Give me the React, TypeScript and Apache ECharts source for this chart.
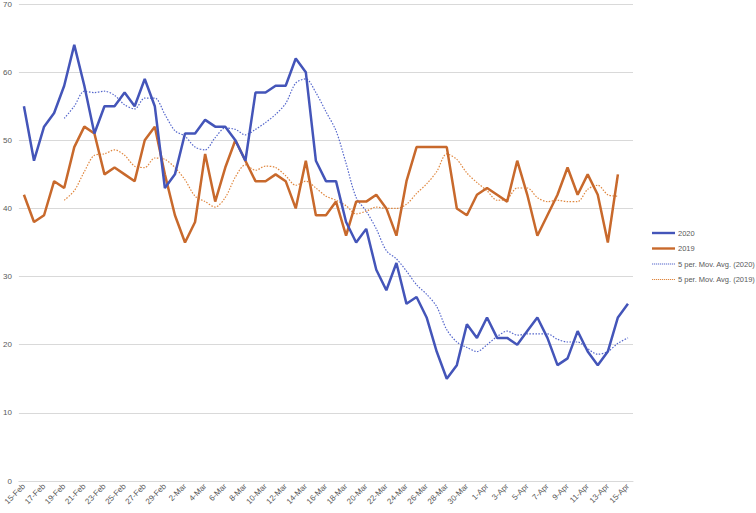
import React, { useEffect, useRef } from "react";
import * as echarts from "echarts";

const categories: string[] = [
  "15-Feb", "16-Feb", "17-Feb", "18-Feb", "19-Feb", "20-Feb", "21-Feb", "22-Feb", "23-Feb", "24-Feb",
  "25-Feb", "26-Feb", "27-Feb", "28-Feb", "29-Feb",
  "1-Mar", "2-Mar", "3-Mar", "4-Mar", "5-Mar", "6-Mar", "7-Mar", "8-Mar", "9-Mar", "10-Mar",
  "11-Mar", "12-Mar", "13-Mar", "14-Mar", "15-Mar", "16-Mar", "17-Mar", "18-Mar", "19-Mar", "20-Mar",
  "21-Mar", "22-Mar", "23-Mar", "24-Mar", "25-Mar", "26-Mar", "27-Mar", "28-Mar", "29-Mar", "30-Mar",
  "31-Mar",
  "1-Apr", "2-Apr", "3-Apr", "4-Apr", "5-Apr", "6-Apr", "7-Apr", "8-Apr", "9-Apr", "10-Apr",
  "11-Apr", "12-Apr", "13-Apr", "14-Apr", "15-Apr",
];

const values2020: number[] = [
  55, 47, 52, 54, 58, 64, 58, 51, 55, 55,
  57, 55, 59, 55, 43,
  45, 51, 51, 53, 52, 52, 50, 47, 57, 57,
  58, 58, 62, 60, 47, 44, 44, 38, 35, 37,
  31, 28, 32, 26, 27, 24, 19, 15, 17, 23,
  21,
  24, 21, 21, 20, 22, 24, 21, 17, 18, 22,
  19, 17, 19, 24, 26,
];

const values2019: (number | null)[] = [
  42, 38, 39, 44, 43, 49, 52, 51, 45, 46,
  45, 44, 50, 52, 45,
  39, 35, 38, 48, 41, 46, 50, 47, 44, 44,
  45, 44, 40, 47, 39, 39, 41, 36, 41, 41,
  42, 40, 36, 44, 49, 49, 49, 49, 40, 39,
  42,
  43, 42, 41, 47, 42, 36, 39, 42, 46, 42,
  45, 42, 35, 45, null,
];

const yTicks = { min: 0, max: 70, interval: 10 };
const PERIOD = 5;

function movingAverage(src: (number | null)[], period: number): (number | null)[] {
  return src.map((_, i) => {
    if (i < period - 1) return null;
    const win = src.slice(i - period + 1, i + 1);
    if (win.some((v) => v == null)) return null;
    const s = (win as number[]).reduce((a, b) => a + b, 0);
    return +(s / period).toFixed(2);
  });
}

const ma2020 = movingAverage(values2020, PERIOD);
const ma2019 = movingAverage(values2019, PERIOD);

const BLUE = "#4455B9";
const ORANGE = "#C8692C";
const MA_BLUE = "#5567CC";
const MA_ORANGE = "#E0873F";
const FONT = "Liberation Sans, Arial, sans-serif";

// legend icons
const SOLID_ICON = "path://M0,0h24v2.5h-24z";
const dots: string[] = [];
for (let i = 0; i < 12; i++) dots.push(`M${i * 2},0h1.2v1.2h-1.2z`);
const DOTTED_ICON = "path://" + dots.join("");

export default function App() {
  const ref = useRef<HTMLDivElement>(null);
  useEffect(() => {
    if (!ref.current) return;
    const chart = echarts.init(ref.current, null, { renderer: "svg" });
    chart.setOption({
      animation: false,
      backgroundColor: "#ffffff",
      textStyle: { fontFamily: FONT },
      grid: { left: 17, right: 123, top: 4, bottom: 32, containLabel: false },
      legend: {
        orient: "vertical",
        left: 647,
        top: 224,
        itemWidth: 23,
        itemHeight: 2.5,
        itemGap: 7.5,
        textStyle: { fontSize: 7.5, color: "#595959", fontFamily: FONT, padding: [0, 0, 0, -2] },
        data: [
          { name: "2020", icon: SOLID_ICON, itemStyle: { color: BLUE } },
          { name: "2019", icon: SOLID_ICON, itemStyle: { color: ORANGE } },
          { name: "5 per. Mov. Avg. (2020)", icon: DOTTED_ICON, itemStyle: { color: MA_BLUE } },
          { name: "5 per. Mov. Avg. (2019)", icon: DOTTED_ICON, itemStyle: { color: MA_ORANGE } },
        ],
      },
      xAxis: {
        type: "category",
        data: categories,
        boundaryGap: true,
        axisLine: { show: true, lineStyle: { color: "#d9d9d9" } },
        axisTick: { show: false },
        axisLabel: {
          interval: 1,
          rotate: 45,
          fontSize: 8,
          color: "#595959",
          margin: 4,
          fontFamily: FONT,
        },
      },
      yAxis: {
        type: "value",
        min: yTicks.min,
        max: yTicks.max,
        interval: yTicks.interval,
        axisLine: { show: false },
        axisTick: { show: false },
        splitLine: { lineStyle: { color: "#d9d9d9", width: 1 } },
        axisLabel: { fontSize: 8, color: "#595959", margin: 7, fontFamily: FONT },
      },
      series: [
        {
          name: "2020",
          type: "line",
          data: values2020,
          symbol: "none",
          lineStyle: { color: BLUE, width: 2.5 },
          itemStyle: { color: BLUE },
          z: 4,
        },
        {
          name: "2019",
          type: "line",
          data: values2019,
          symbol: "none",
          lineStyle: { color: ORANGE, width: 2.5 },
          itemStyle: { color: ORANGE },
          z: 3,
        },
        {
          name: "5 per. Mov. Avg. (2020)",
          type: "line",
          data: ma2020,
          symbol: "none",
          smooth: 0.3,
          lineStyle: { color: MA_BLUE, width: 1.2, type: [1.5, 1.5] },
          itemStyle: { color: MA_BLUE },
          z: 2,
        },
        {
          name: "5 per. Mov. Avg. (2019)",
          type: "line",
          data: ma2019,
          symbol: "none",
          smooth: 0.3,
          lineStyle: { color: MA_ORANGE, width: 1.2, type: [1.5, 1.5] },
          itemStyle: { color: MA_ORANGE },
          z: 2,
        },
      ],
    });
    return () => chart.dispose();
  }, []);
  return <div ref={ref} style={{ width: 756, height: 513, position: "absolute", left: 0, top: 0 }} />;
}
